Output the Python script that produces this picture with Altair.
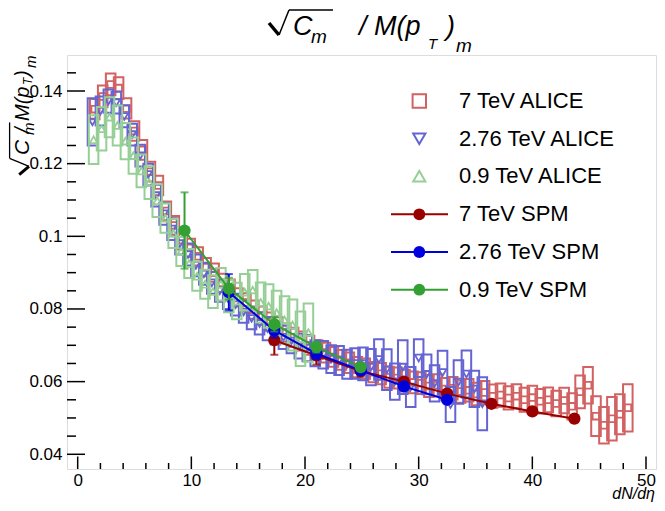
import altair as alt
import pandas as pd

# ---------------- data ----------------
red_x = [1.5, 2.2, 2.9, 3.6, 4.3, 5.0, 5.7, 6.4, 7.1, 7.8, 8.5, 9.2, 9.9, 10.6, 11.3, 12.0,
         12.7, 13.4, 14.1, 14.8, 15.5, 16.2, 16.9, 17.6, 18.3, 19.0, 19.7, 20.4, 21.1, 21.8,
         22.5, 23.2, 23.9, 24.6, 25.3, 26.0, 26.7, 27.4, 28.1, 28.8, 29.5, 30.2, 30.9, 31.6,
         32.3, 33.0, 33.7, 34.4, 35.1, 35.8, 36.5, 37.2, 37.9, 38.6, 39.3, 40.0, 40.7, 41.4,
         42.1, 42.8, 43.5, 44.2, 44.9, 45.6, 46.3, 47.0, 47.7, 48.4]
red_y = [0.1350, 0.1385, 0.1418, 0.1408, 0.1352, 0.1290, 0.1238, 0.1178, 0.1140, 0.1070,
         0.1030, 0.0990, 0.0968, 0.0945, 0.0915, 0.0900, 0.0872, 0.0856, 0.0832, 0.0818,
         0.0798, 0.0782, 0.0765, 0.0752, 0.0735, 0.0722, 0.0712, 0.0700, 0.0688, 0.0680,
         0.0668, 0.0660, 0.0652, 0.0640, 0.0636, 0.0626, 0.0622, 0.0612, 0.0610, 0.0603,
         0.0598, 0.0596, 0.0588, 0.0590, 0.0580, 0.0582, 0.0573, 0.0576, 0.0566, 0.0570,
         0.0560, 0.0563, 0.0555, 0.0560, 0.0550, 0.0556, 0.0546, 0.0550, 0.0540, 0.0548,
         0.0532, 0.0572, 0.0590, 0.0505, 0.0480, 0.0498, 0.0510, 0.0528]
red_e = [0.0028, 0.0030, 0.0030, 0.0030, 0.0028, 0.0027, 0.0027, 0.0027, 0.0027, 0.0026,
         0.0026, 0.0026, 0.0025, 0.0025, 0.0025, 0.0025, 0.0025, 0.0025, 0.0025, 0.0025,
         0.0025, 0.0025, 0.0025, 0.0025, 0.0025, 0.0026, 0.0026, 0.0026, 0.0026, 0.0027,
         0.0027, 0.0027, 0.0028, 0.0028, 0.0028, 0.0028, 0.0029, 0.0029, 0.0029, 0.0030,
         0.0030, 0.0030, 0.0030, 0.0030, 0.0030, 0.0031, 0.0031, 0.0031, 0.0031, 0.0032,
         0.0032, 0.0032, 0.0032, 0.0033, 0.0033, 0.0033, 0.0034, 0.0034, 0.0035, 0.0035,
         0.0036, 0.0045, 0.0050, 0.0055, 0.0050, 0.0060, 0.0055, 0.0065]

blue_x = [1.3, 2.0, 2.7, 3.4, 4.1, 4.8, 5.5, 6.2, 6.9, 7.6, 8.3, 9.0, 9.7, 10.4, 11.1, 11.8,
          12.5, 13.2, 13.9, 14.6, 15.3, 16.0, 16.7, 17.4, 18.1, 18.8, 19.5, 20.2, 20.9, 21.6,
          22.3, 23.0, 23.7, 24.4, 25.1, 25.8, 26.5, 27.2, 27.9, 28.6, 29.3, 30.0, 30.7, 31.4,
          32.1, 32.8, 33.5, 34.2, 34.9, 35.6]
blue_y = [0.1315, 0.1345, 0.1372, 0.1368, 0.1330, 0.1280, 0.1222, 0.1170, 0.1112, 0.1062,
          0.1020, 0.0980, 0.0950, 0.0920, 0.0897, 0.0872, 0.0850, 0.0830, 0.0812, 0.0792,
          0.0774, 0.0760, 0.0746, 0.0734, 0.0722, 0.0712, 0.0698, 0.0692, 0.0678, 0.0674,
          0.0662, 0.0658, 0.0648, 0.0650, 0.0649, 0.0640, 0.0661, 0.0633, 0.0600, 0.0640,
          0.0585, 0.0665, 0.0620, 0.0595, 0.0625, 0.0537, 0.0599, 0.0621, 0.0580, 0.0539]
blue_e = [0.0065, 0.0040, 0.0032, 0.0030, 0.0030, 0.0030, 0.0030, 0.0030, 0.0030, 0.0030,
          0.0030, 0.0030, 0.0030, 0.0030, 0.0030, 0.0030, 0.0030, 0.0030, 0.0030, 0.0030,
          0.0030, 0.0030, 0.0032, 0.0032, 0.0032, 0.0034, 0.0034, 0.0036, 0.0036, 0.0038,
          0.0038, 0.0040, 0.0040, 0.0042, 0.0045, 0.0050, 0.0056, 0.0056, 0.0050, 0.0074,
          0.0055, 0.0052, 0.0055, 0.0050, 0.0060, 0.0048, 0.0060, 0.0065, 0.0050, 0.0073]

green_x = [1.4, 2.1, 2.8, 3.5, 4.2, 4.9, 5.6, 6.3, 7.0, 7.7, 8.4, 9.1, 9.8, 10.5, 11.2, 11.9,
           12.6, 13.3, 14.0, 14.7, 15.4, 16.1, 16.8, 17.5, 18.2, 18.9, 19.6, 20.3]
green_y = [0.1266, 0.1296, 0.1328, 0.1305, 0.1262, 0.1222, 0.1180, 0.1148, 0.1098, 0.1050,
           0.1008, 0.0958, 0.0925, 0.0890, 0.0868, 0.0848, 0.0868, 0.0836, 0.0822, 0.0846,
           0.0852, 0.0818, 0.0808, 0.0790, 0.0770, 0.0756, 0.0718, 0.0735]
green_e = [0.0067, 0.0060, 0.0055, 0.0055, 0.0050, 0.0050, 0.0045, 0.0045, 0.0045, 0.0040,
           0.0040, 0.0040, 0.0040, 0.0040, 0.0040, 0.0045, 0.0045, 0.0045, 0.0050, 0.0050,
           0.0055, 0.0055, 0.0060, 0.0060, 0.0065, 0.0070, 0.0075, 0.0080]

spm_red_x = [17.3, 21.0, 24.9, 28.7, 32.5, 36.4, 40.0, 43.7]
spm_red_y = [0.0714, 0.0672, 0.0629, 0.0600, 0.0567, 0.0539, 0.0518, 0.0498]
spm_red_e = [0.0040, 0.0025, 0.0015, 0.0010, 0.0010, 0.0010, 0.0010, 0.0010]
spm_blue_x = [13.3, 17.3, 21.0, 24.9, 28.7, 32.5]
spm_blue_y = [0.0846, 0.0741, 0.0677, 0.0631, 0.0587, 0.0550]
spm_blue_e = [0.0050, 0.0020, 0.0015, 0.0010, 0.0010, 0.0010]
spm_green_x = [9.4, 13.3, 17.3, 21.0, 24.9]
spm_green_y = [0.1016, 0.0856, 0.0758, 0.0695, 0.0640]
spm_green_e = [0.0105, 0.0030, 0.0020, 0.0015, 0.0010]

x_major = [0, 10, 20, 30, 40, 50]
x_minor = [2, 4, 6, 8, 12, 14, 16, 18, 22, 24, 26, 28, 32, 34, 36, 38, 42, 44, 46, 48]
y_major = [0.04, 0.06, 0.08, 0.10, 0.12, 0.14]
y_minor = [0.045, 0.05, 0.055, 0.065, 0.07, 0.075, 0.085, 0.09, 0.095, 0.105, 0.11,
           0.115, 0.125, 0.13, 0.135, 0.145]

legend_labels = ["7 TeV ALICE", "2.76 TeV ALICE", "0.9 TeV ALICE",
                 "7 TeV SPM", "2.76 TeV SPM", "0.9 TeV SPM"]

# ---------------- style ----------------
FONT = "Liberation Sans"
W, H = 589, 414
XDOM = [-0.94, 50.88]
YDOM = [0.03595, 0.14991]
C_RED_A, C_BLUE_A, C_GREEN_A = "#d26262", "#6464d2", "#96cf96"
C_RED, C_BLUE, C_GREEN = "#990000", "#0000dd", "#33a033"

xs = alt.Scale(domain=XDOM, nice=False, zero=False)
ys = alt.Scale(domain=YDOM, nice=False, zero=False)
XAX = alt.Axis(values=x_major, ticks=False, tickSize=0, domain=False, grid=False,
               labelFont=FONT, labelFontSize=17, labelColor="black", labelPadding=3,
               title=None)
YAX = alt.Axis(values=y_major, ticks=False, tickSize=0, domain=False, grid=False,
               labelFont=FONT, labelFontSize=17, labelColor="black", labelPadding=5,
               labelExpr="format(datum.value, '~g')", title=None)


def X(f):
    return alt.X(f, type="quantitative", scale=xs, axis=XAX, title=None)


def Y(f):
    return alt.Y(f, type="quantitative", scale=ys, axis=YAX, title=None)


def alice(xv, yv, ev, color, shape, msize):
    df = pd.DataFrame({"x": xv, "y": yv, "e": ev})
    base = alt.Chart(df).transform_calculate(
        xlo="datum.x - 0.42", xhi="datum.x + 0.42",
        ylo="datum.y - datum.e", yhi="datum.y + datum.e")
    boxes = base.mark_rect(fillOpacity=0, stroke=color, strokeWidth=2).encode(
        x=X("xlo"), x2="xhi:Q", y=Y("ylo"), y2="yhi:Q")
    pts = base.mark_point(shape=shape, filled=False, color=color, size=msize,
                          strokeWidth=1.8, opacity=1).encode(x=X("x"), y=Y("y"))
    return [boxes, pts]


def spm(xv, yv, ev, color):
    df = pd.DataFrame({"x": xv, "y": yv, "e": ev})
    base = alt.Chart(df).transform_calculate(
        ylo="datum.y - datum.e", yhi="datum.y + datum.e")
    bar = base.mark_rule(color=color, strokeWidth=2).encode(x=X("x"), y=Y("ylo"), y2="yhi:Q")
    cap1 = base.mark_tick(color=color, orient="horizontal", size=8, thickness=2).encode(
        x=X("x"), y=Y("ylo"))
    cap2 = base.mark_tick(color=color, orient="horizontal", size=8, thickness=2).encode(
        x=X("x"), y=Y("yhi"))
    line = base.mark_line(color=color, strokeWidth=2).encode(x=X("x"), y=Y("y"))
    dots = base.mark_circle(color=color, size=150, opacity=1).encode(x=X("x"), y=Y("y"))
    return [bar, cap1, cap2, line, dots]


ONE = alt.Data(values=[{}])


def txt(s, x, y, size, italic=False, align="left", angle=0, baseline="alphabetic"):
    return alt.Chart(ONE).mark_text(
        text=s, font=FONT, fontSize=size, fontStyle="italic" if italic else "normal",
        align=align, baseline=baseline, angle=angle, color="black").encode(
        x=alt.value(x), y=alt.value(y))


def seg(x1, y1, x2, y2, w, color="black"):
    return alt.Chart(ONE).mark_rule(color=color, strokeWidth=w).encode(
        x=alt.value(x1), y=alt.value(y1), x2=alt.value(x2), y2=alt.value(y2))


def sym(x, y, shape, color, size, filled):
    return alt.Chart(ONE).mark_point(shape=shape, filled=filled, color=color, size=size,
                                     strokeWidth=2, opacity=1).encode(
        x=alt.value(x), y=alt.value(y))


layers = []
layers += alice(red_x, red_y, red_e, C_RED_A, "square", 45)
layers += alice(blue_x, blue_y, blue_e, C_BLUE_A, "triangle-down", 60)
layers += alice(green_x, green_y, green_e, C_GREEN_A, "triangle-up", 60)
layers += spm(spm_red_x, spm_red_y, spm_red_e, C_RED)
layers += spm(spm_blue_x, spm_blue_y, spm_blue_e, C_BLUE)
layers += spm(spm_green_x, spm_green_y, spm_green_e, C_GREEN)

# inward ticks (ROOT style)
layers.append(alt.Chart(pd.DataFrame({"v": x_major})).mark_rule(color="black", strokeWidth=1.5)
              .encode(x=X("v"), y=alt.value(H), y2=alt.value(H - 12.5)))
layers.append(alt.Chart(pd.DataFrame({"v": x_minor})).mark_rule(color="black", strokeWidth=1.5)
              .encode(x=X("v"), y=alt.value(H), y2=alt.value(H - 6)))
layers.append(alt.Chart(pd.DataFrame({"v": y_major})).mark_rule(color="black", strokeWidth=1.5)
              .encode(y=Y("v"), x=alt.value(0), x2=alt.value(18)))
layers.append(alt.Chart(pd.DataFrame({"v": y_minor})).mark_rule(color="black", strokeWidth=1.5)
              .encode(y=Y("v"), x=alt.value(0), x2=alt.value(9)))

# legend
rows = [46, 83.7, 121.3, 159.3, 197, 234.7]
mx, lx1, lx2, tx = 352.3, 324, 381, 392
layers.append(sym(mx, rows[0], "square", C_RED_A, 180, False))
layers.append(sym(mx, rows[1], "triangle-down", C_BLUE_A, 150, False))
layers.append(sym(mx, rows[2], "triangle-up", C_GREEN_A, 150, False))
for r, c in zip(rows[3:], [C_RED, C_BLUE, C_GREEN]):
    layers.append(seg(lx1, r, lx2, r, 2, c))
    layers.append(sym(mx, r, "circle", c, 140, True))
for r, lab in zip(rows, legend_labels):
    layers.append(txt(lab, tx, r, 22, baseline="middle"))

# title: sqrt(C_m) / M(p_T)_m
layers += [
    seg(202, -32, 212, -20, 3.5), seg(212, -20, 222, -45, 1.5), seg(222, -45, 266, -45, 1.5),
    txt("C", 226, -20, 27, True), txt("m", 244, -12, 19, True),
    txt("/ M(p", 292, -20, 27, True), txt("T", 361, -6, 15, True),
    txt(")", 379, -20, 27, True), txt("m", 389, -3, 19, True),
]

# y title (rotated)
layers += [
    seg(-47.8, 119.6, -38, 111.4, 3), seg(-38, 111.4, -57.4, 103.3, 1.3),
    seg(-57.4, 103.3, -57.4, 67.4, 1.3),
    txt("C", -38, 100, 21, True, angle=270), txt("m", -33, 80, 15, True, angle=270),
    txt("/", -38, 78, 20, True, angle=270), txt("M(p", -38, 66, 20, True, angle=270),
    txt("T", -35, 30, 12, True, angle=270), txt(")", -38, 22, 20, True, angle=270),
    txt("m", -31, 13, 15, True, angle=270),
]

# x title
layers.append(txt("dN/d\u03b7", W - 1, 444, 16, True, align="right"))

chart = alt.layer(*layers).properties(
    width=W, height=H,
    padding={"left": 59, "top": 47, "right": 1, "bottom": 34},
    autosize=alt.AutoSizeParams(type="none"),
).configure_view(stroke="black", strokeWidth=2).configure(background="white")

chart.save("out.html", embed_options={"renderer": "svg", "actions": False})
